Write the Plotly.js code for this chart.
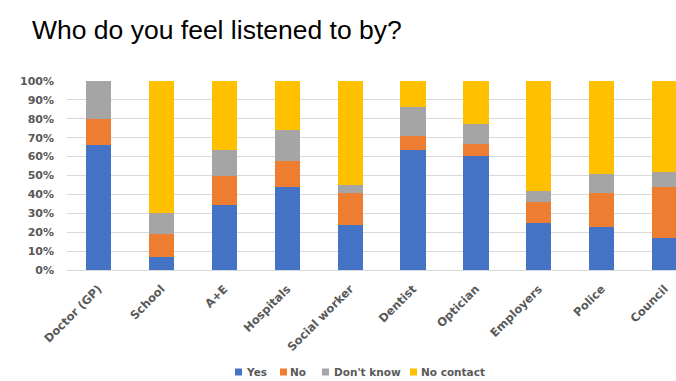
<!DOCTYPE html>
<html>
<head>
<meta charset="utf-8">
<script src="https://cdn.plot.ly/plotly-3.0.1.min.js"></script>
<style>html,body{margin:0;padding:0;background:#fff;}#chart{width:676px;height:381px;}</style>
</head>
<body>
<div id="chart"></div>
<script>
const categories = ["Doctor (GP)", "School", "A+E", "Hospitals", "Social worker", "Dentist", "Optician", "Employers", "Police", "Council"];
const yesVals = [66, 7, 34.5, 44, 24, 63.5, 60.5, 25, 23, 17];
const noVals = [14, 12, 15.5, 13.5, 17, 7.5, 6, 11, 17.5, 27];
const dontKnowVals = [20, 11, 13.5, 16.5, 4, 15, 11, 6, 10.5, 8];
const noContactVals = [0, 70, 36.5, 26, 55, 14, 22.5, 58, 49, 48];
const seriesNames = ["Yes", "No", "Don't know", "No contact"];
const seriesColors = ["#4472C4", "#ED7D31", "#A5A5A5", "#FFC000"];
const seriesValues = [yesVals, noVals, dontKnowVals, noContactVals];

const W = 676, H = 381, ML = 67, MR = 0, MT = 81, MB = 111;
const PW = W - ML - MR, PH = H - MT - MB;
const px2x = p => (p - ML) / PW;
const px2y = p => (H - MB - p) / PH;

const traces = seriesValues.map((vals, i) => ({
  type: "bar",
  name: seriesNames[i],
  x: categories,
  y: vals,
  marker: { color: seriesColors[i], line: { width: 0 } },
  hoverinfo: "skip"
}));

const labelFont = { family: "DejaVu Sans, Verdana, sans-serif", size: 11.5, color: "#595959", weight: "bold" };
const yFont = { family: "DejaVu Sans, Verdana, sans-serif", size: 11, color: "#595959", weight: "bold" };
const legFont = { family: "DejaVu Sans, Verdana, sans-serif", size: 10.5, color: "#595959", weight: "bold" };

// manual compact legend (box left px, text left px)
const legBoxX = [235, 280, 322, 410];
const legTextX = [245, 289, 333, 420];
const legY = 372;
const shapes = [];
const annotations = [];
seriesNames.forEach((n, i) => {
  shapes.push({
    type: "rect", xref: "paper", yref: "paper",
    x0: px2x(legBoxX[i]), x1: px2x(legBoxX[i] + 7),
    y0: px2y(legY + 3.5), y1: px2y(legY - 3.5),
    fillcolor: seriesColors[i], line: { width: 0 }
  });
  annotations.push({
    xref: "paper", yref: "paper",
    x: px2x(legTextX[i] - 1), y: px2y(legY),
    xanchor: "left", yanchor: "middle",
    text: n, showarrow: false, font: legFont
  });
});

const layout = {
  width: W,
  height: H,
  margin: { l: ML, r: MR, t: MT, b: MB },
  paper_bgcolor: "#ffffff",
  plot_bgcolor: "#ffffff",
  barmode: "stack",
  bargap: 0.6,
  showlegend: false,
  title: {
    text: "Who do you feel listened to by?",
    font: { family: "Liberation Sans, Arial, sans-serif", size: 26.5, color: "#000000" },
    x: 32 / W, xref: "container", xanchor: "left",
    y: 1 - 30 / H, yref: "container", yanchor: "middle"
  },
  xaxis: {
    type: "category",
    range: [-0.5, 9.18],
    tickangle: -45,
    tickfont: labelFont,
    ticklabelstandoff: 9,
    showgrid: false,
    showline: false,
    zeroline: false,
    ticks: "",
    fixedrange: true
  },
  yaxis: {
    range: [0, 100],
    dtick: 10,
    ticksuffix: "%",
    tickfont: yFont,
    ticklabelstandoff: 12,
    showgrid: true,
    gridcolor: "#D9D9D9",
    gridwidth: 1,
    zeroline: true,
    zerolinecolor: "#D9D9D9",
    showline: false,
    ticks: "",
    fixedrange: true
  },
  shapes: shapes,
  annotations: annotations
};

Plotly.newPlot("chart", traces, layout, { displayModeBar: false, staticPlot: true });
</script>
</body>
</html>
